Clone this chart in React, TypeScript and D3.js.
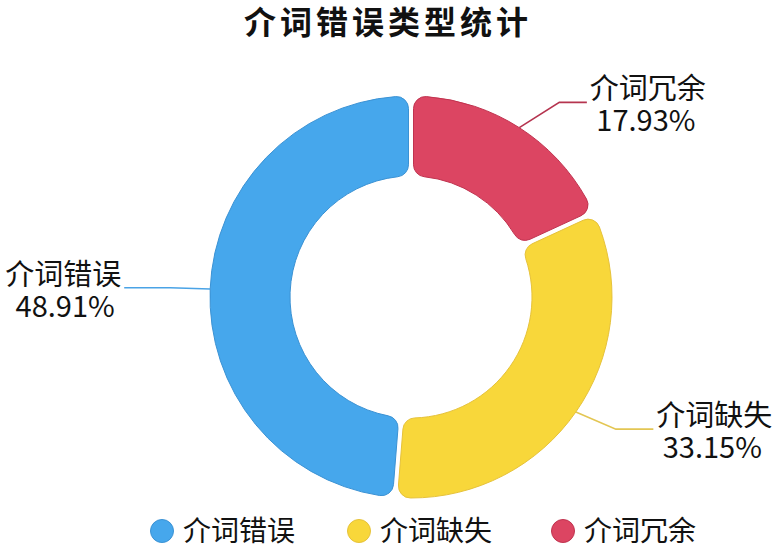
import React from 'react';
import * as d3 from 'd3';

const categories = ['介词错误', '介词缺失', '介词冗余'];
const values = [48.91, 33.15, 17.93];
const colors = ['#46A7EC', '#F8D73A', '#DC4562'];
const strokes = ['#3B92D4', '#E6C23A', '#C0334F'];
const lineColors = ['#4AA3E6', '#E3C653', '#B5344F'];
const title = '介词错误类型统计';

const W = 784;
const H = 551;
const cx = 411;
const cy = 297;
const R = 201;
const r = 121;
const FONT = '"Noto Sans CJK SC", "Noto Sans", sans-serif';

export default function App() {
  const data = categories.map((c, i) => ({ name: c, value: values[i], i }));
  // clockwise from top: 冗余, 缺失, 错误
  const pieOrder = [2, 1, 0].map((k) => data[k]);
  const pie = d3
    .pie<any>()
    .sort(null)
    .value((d: any) => d.value)
    .padAngle(5 / R);
  const arcs = pie(pieOrder);
  const arc = d3
    .arc<any>()
    .innerRadius(r)
    .outerRadius(R)
    .cornerRadius(12)
    .padRadius(R);

  const legendX = [150, 347, 551];

  return (
    <svg
      width={W}
      height={H}
      style={{ position: 'absolute', left: 0, top: 0, background: '#fff' }}
      fontFamily={FONT}
    >
      <text
        x={388}
        y={34}
        textAnchor="middle"
        fontSize={32}
        fontWeight="bold"
        letterSpacing={4}
        fill="#111"
      >
        {title}
      </text>
      <g transform={`translate(${cx},${cy})`}>
        {arcs.map((a: any) => (
          <path
            key={a.data.name}
            d={arc(a) as string}
            fill={colors[a.data.i]}
            stroke={strokes[a.data.i]}
            strokeWidth={1}
          />
        ))}
      </g>
      {arcs.map((a: any) => {
        const mid = (a.startAngle + a.endAngle) / 2;
        const s = Math.sin(mid);
        const c = Math.cos(mid);
        const sign = s >= 0 ? 1 : -1;
        const x0 = cx + R * s;
        const y0 = cy - R * c;
        const x1 = x0 + 40 * sign;
        const y1 = y0 - 30 * c;
        const x2 = x1 + (20 + 26 * s * s) * sign;
        const tx = x2 + 61 * sign;
        return (
          <g key={'l' + a.data.name}>
            <polyline
              points={`${x0},${y0} ${x1},${y1} ${x2},${y1}`}
              fill="none"
              stroke={lineColors[a.data.i]}
              strokeWidth={1.6}
            />
            <text x={tx} y={y1 - 3} textAnchor="middle" fontSize={29} fill="#111">
              {a.data.name}
            </text>
            <text x={tx - 2 * sign} y={y1 + 29} textAnchor="middle" fontSize={29} fill="#111">
              {a.data.value.toFixed(2) + '%'}
            </text>
          </g>
        );
      })}
      {data.map((d, i) => (
        <g key={'lg' + d.name}>
          <circle
            cx={legendX[i] + 12}
            cy={531}
            r={11.5}
            fill={colors[i]}
            stroke={strokes[i]}
            strokeWidth={1}
          />
          <text x={legendX[i] + 33} y={541} fontSize={28} fill="#111">
            {d.name}
          </text>
        </g>
      ))}
    </svg>
  );
}
